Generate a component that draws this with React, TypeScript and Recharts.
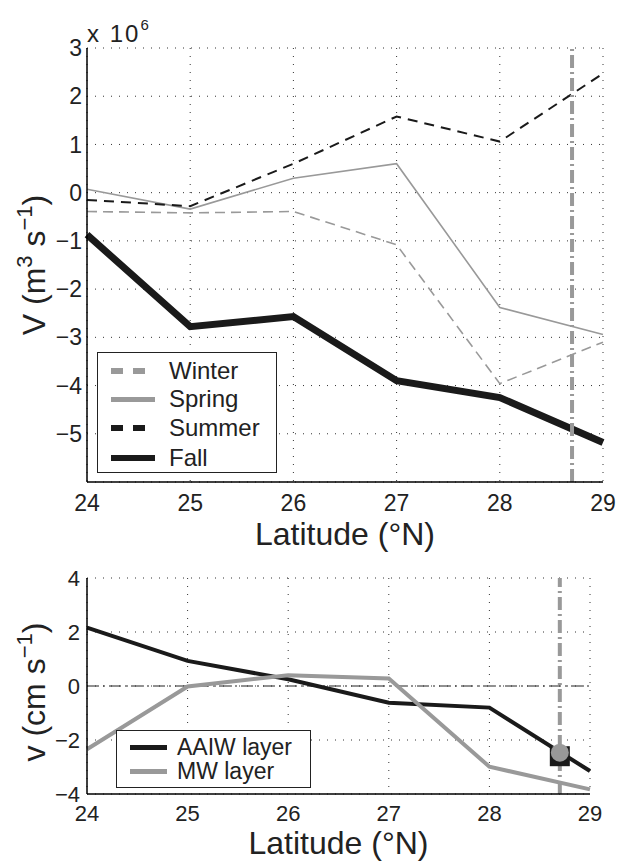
import React from "react";
import { ComposedChart, Line, XAxis, YAxis, CartesianGrid, ReferenceLine, ReferenceDot } from "recharts";

// latitude stations
const LATS = [24, 25, 26, 27, 28, 29];

// top panel: transport, x 10^6 m^3/s
const WINTER = [-0.39, -0.42, -0.39, -1.08, -3.96, -3.1];
const SPRING = [0.07, -0.34, 0.3, 0.6, -2.38, -2.94];
const SUMMER = [-0.15, -0.28, 0.6, 1.58, 1.06, 2.47];
const FALL = [-0.87, -2.78, -2.57, -3.9, -4.25, -5.18];
const TOP_TICKS = [-5, -4, -3, -2, -1, 0, 1, 2, 3];

// bottom panel: velocity, cm/s
const AAIW = [2.16, 0.93, 0.25, -0.62, -0.8, -3.15];
const MW = [-2.34, -0.02, 0.4, 0.28, -2.99, -3.83];
const BOTTOM_TICKS = [-4, -2, 0, 2, 4];

// section marker
const SECTION_LAT = 28.7;
const AAIW_MARK = -2.6;
const MW_MARK = -2.47;

const GRAY = "#999999";
const BLACK = "#1a1a1a";
const FONT = '"Liberation Sans", Arial, sans-serif';

const topRows = LATS.map((lat, i) => ({
  lat,
  winter: WINTER[i],
  spring: SPRING[i],
  summer: SUMMER[i],
  fall: FALL[i],
}));

const bottomRows = LATS.map((lat, i) => ({ lat, aaiw: AAIW[i], mw: MW[i] }));

const fmt = (v: number) => (v < 0 ? `\u2212${Math.abs(v)}` : `${v}`);

const xTitle = (dy: number) => (props: any) => {
  const { x, y, width } = props.viewBox;
  return (
    <text x={x + width / 2} y={y + dy} textAnchor="middle" fontSize={32} fill="#222">
      Latitude (°N)
    </text>
  );
};

const yTitle = (parts: [string, string, string, string], shift: number) => (props: any) => {
  const { y, height } = props.viewBox;
  const cy = y + height / 2 + shift;
  return (
    <text x={45} y={cy} textAnchor="middle" fontSize={32} fill="#222" transform={`rotate(-90, 45, ${cy})`}>
      <tspan>{parts[0]}</tspan>
      <tspan dy={-13} fontSize={22}>{parts[1]}</tspan>
      <tspan dy={13}>{parts[2]}</tspan>
      <tspan dy={-13} fontSize={22}>{parts[3]}</tspan>
      <tspan dy={13}>)</tspan>
    </text>
  );
};

function LegendRow({ top, left, icon, label, fontSize }: any) {
  return (
    <div style={{ position: "absolute", top, left: 0, height: 28, width: "100%", display: "flex", alignItems: "center" }}>
      {icon}
      <span style={{ position: "absolute", left: left + 14, fontSize, color: "#222", lineHeight: "28px" }}>{label}</span>
    </div>
  );
}

const dashIcon = (color: string) => (
  <svg width={44} height={6} style={{ position: "absolute", left: 13 }}>
    <rect x={0} y={0} width={12} height={6} fill={color} />
    <rect x={22} y={0} width={12} height={6} fill={color} />
  </svg>
);
const solidIcon = (color: string, h: number, w = 44, left = 13) => (
  <svg width={w} height={h} style={{ position: "absolute", left }}>
    <rect x={0} y={0} width={w} height={h} fill={color} />
  </svg>
);

export default function App() {
  return (
    <div style={{ position: "absolute", left: 0, top: 0, width: 617, height: 861, background: "#fff", fontFamily: FONT }}>
      <div style={{ position: "absolute", left: 0, top: 0 }}>
        <ComposedChart width={617} height={560} data={topRows} margin={{ top: 48, right: 14, bottom: 0, left: 0 }}>
          <CartesianGrid stroke="#333" strokeDasharray="1 7" />
          <XAxis
            dataKey="lat"
            type="number"
            domain={[24, 29]}
            ticks={LATS}
            height={78}
            tickLine={false}
            tickSize={6}
            tickMargin={7}
            axisLine={{ stroke: "#000", strokeWidth: 1.5 }}
            tick={{ fontSize: 23, fill: "#222" }}
            label={{ content: xTitle(63) }}
          />
          <XAxis xAxisId="top" orientation="top" dataKey="lat" type="number" domain={[24, 29]} height={0} tick={false} tickLine={false} axisLine={{ stroke: "#000", strokeWidth: 1.5 }} />
          <YAxis
            type="number"
            domain={[-6, 3]}
            ticks={TOP_TICKS}
            width={87}
            tickLine={false}
            tickSize={3}
            tickMargin={2}
            tickFormatter={fmt}
            axisLine={{ stroke: "#000", strokeWidth: 1.5 }}
            tick={{ fontSize: 23, fill: "#222" }}
            label={{ content: yTitle(["V (m", "3", " s", "\u22121"], 0) }}
          />
          <YAxis yAxisId="right" orientation="right" type="number" domain={[-6, 3]} width={0} tick={false} tickLine={false} axisLine={{ stroke: "#000", strokeWidth: 1.5 }} />
          <Line dataKey="winter" stroke={GRAY} strokeWidth={1.6} strokeDasharray="10 6" dot={false} isAnimationActive={false} />
          <Line dataKey="spring" stroke={GRAY} strokeWidth={1.6} dot={false} isAnimationActive={false} />
          <Line dataKey="summer" stroke={BLACK} strokeWidth={2} strokeDasharray="10 7" dot={false} isAnimationActive={false} />
          <Line dataKey="fall" stroke={BLACK} strokeWidth={7} dot={false} isAnimationActive={false} />
          <ReferenceLine x={SECTION_LAT} stroke={GRAY} strokeWidth={4} strokeDasharray="13 4 2 4" />
        </ComposedChart>
      </div>

      <div style={{ position: "absolute", left: 87, top: 14, fontSize: 24, letterSpacing: 2, color: "#222", lineHeight: "28px" }}>
        x 10<sup style={{ fontSize: 15, position: "relative", top: -3, letterSpacing: 0 }}>6</sup>
      </div>

      <div style={{ position: "absolute", left: 97, top: 352, width: 178, height: 119, border: "1.5px solid #222", background: "#fff" }}>
        <LegendRow top={4} left={57} icon={dashIcon(GRAY)} label="Winter" fontSize={24} />
        <LegendRow top={32} left={57} icon={solidIcon(GRAY, 5)} label="Spring" fontSize={24} />
        <LegendRow top={61} left={57} icon={dashIcon(BLACK)} label="Summer" fontSize={24} />
        <LegendRow top={91} left={57} icon={solidIcon(BLACK, 6)} label="Fall" fontSize={24} />
      </div>

      <div style={{ position: "absolute", left: 0, top: 560 }}>
        <ComposedChart width={617} height={301} data={bottomRows} margin={{ top: 18, right: 27, bottom: 0, left: 0 }}>
          <CartesianGrid stroke="#333" strokeDasharray="1 7" />
          <XAxis
            dataKey="lat"
            type="number"
            domain={[24, 29]}
            ticks={LATS}
            height={67}
            tickLine={false}
            tickSize={6}
            tickMargin={5}
            axisLine={{ stroke: "#000", strokeWidth: 1.5 }}
            tick={{ fontSize: 22, fill: "#222" }}
            label={{ content: xTitle(60) }}
          />
          <XAxis xAxisId="top" orientation="top" dataKey="lat" type="number" domain={[24, 29]} height={0} tick={false} tickLine={false} axisLine={{ stroke: "#000", strokeWidth: 1.5 }} />
          <YAxis
            type="number"
            domain={[-4, 4]}
            ticks={BOTTOM_TICKS}
            width={87}
            tickLine={false}
            tickSize={3}
            tickMargin={4}
            tickFormatter={fmt}
            axisLine={{ stroke: "#000", strokeWidth: 1.5 }}
            tick={{ fontSize: 22, fill: "#222" }}
            label={{ content: yTitle(["v (cm s", "\u22121", "", ""], 6) }}
          />
          <YAxis yAxisId="right" orientation="right" type="number" domain={[-4, 4]} width={0} tick={false} tickLine={false} axisLine={{ stroke: "#000", strokeWidth: 1.5 }} />
          <ReferenceLine y={0} stroke="#222" strokeWidth={1} strokeDasharray="12 4 2 4" />
          <Line dataKey="aaiw" stroke={BLACK} strokeWidth={4} dot={false} isAnimationActive={false} />
          <Line dataKey="mw" stroke={GRAY} strokeWidth={4} dot={false} isAnimationActive={false} />
          <ReferenceLine x={SECTION_LAT} stroke={GRAY} strokeWidth={4} strokeDasharray="13 4 2 4" />
          <ReferenceDot
            x={SECTION_LAT}
            y={AAIW_MARK}
            shape={(p: any) => <rect x={p.cx - 10} y={p.cy - 10} width={20} height={20} fill={BLACK} />}
          />
          <ReferenceDot x={SECTION_LAT} y={MW_MARK} r={9} fill={GRAY} stroke="none" />
        </ComposedChart>
      </div>

      <div style={{ position: "absolute", left: 116, top: 730, width: 193, height: 56, border: "1.5px solid #222", background: "#fff" }}>
        <div style={{ position: "absolute", top: 2, left: 0, width: "100%", height: 28, display: "flex", alignItems: "center" }}>
          {solidIcon(BLACK, 5, 37, 13)}
          <span style={{ position: "absolute", left: 60, fontSize: 23, color: "#222", lineHeight: "28px" }}>AAIW layer</span>
        </div>
        <div style={{ position: "absolute", top: 26, left: 0, width: "100%", height: 28, display: "flex", alignItems: "center" }}>
          {solidIcon(GRAY, 5, 37, 13)}
          <span style={{ position: "absolute", left: 60, fontSize: 23, color: "#222", lineHeight: "28px" }}>MW layer</span>
        </div>
      </div>
    </div>
  );
}
